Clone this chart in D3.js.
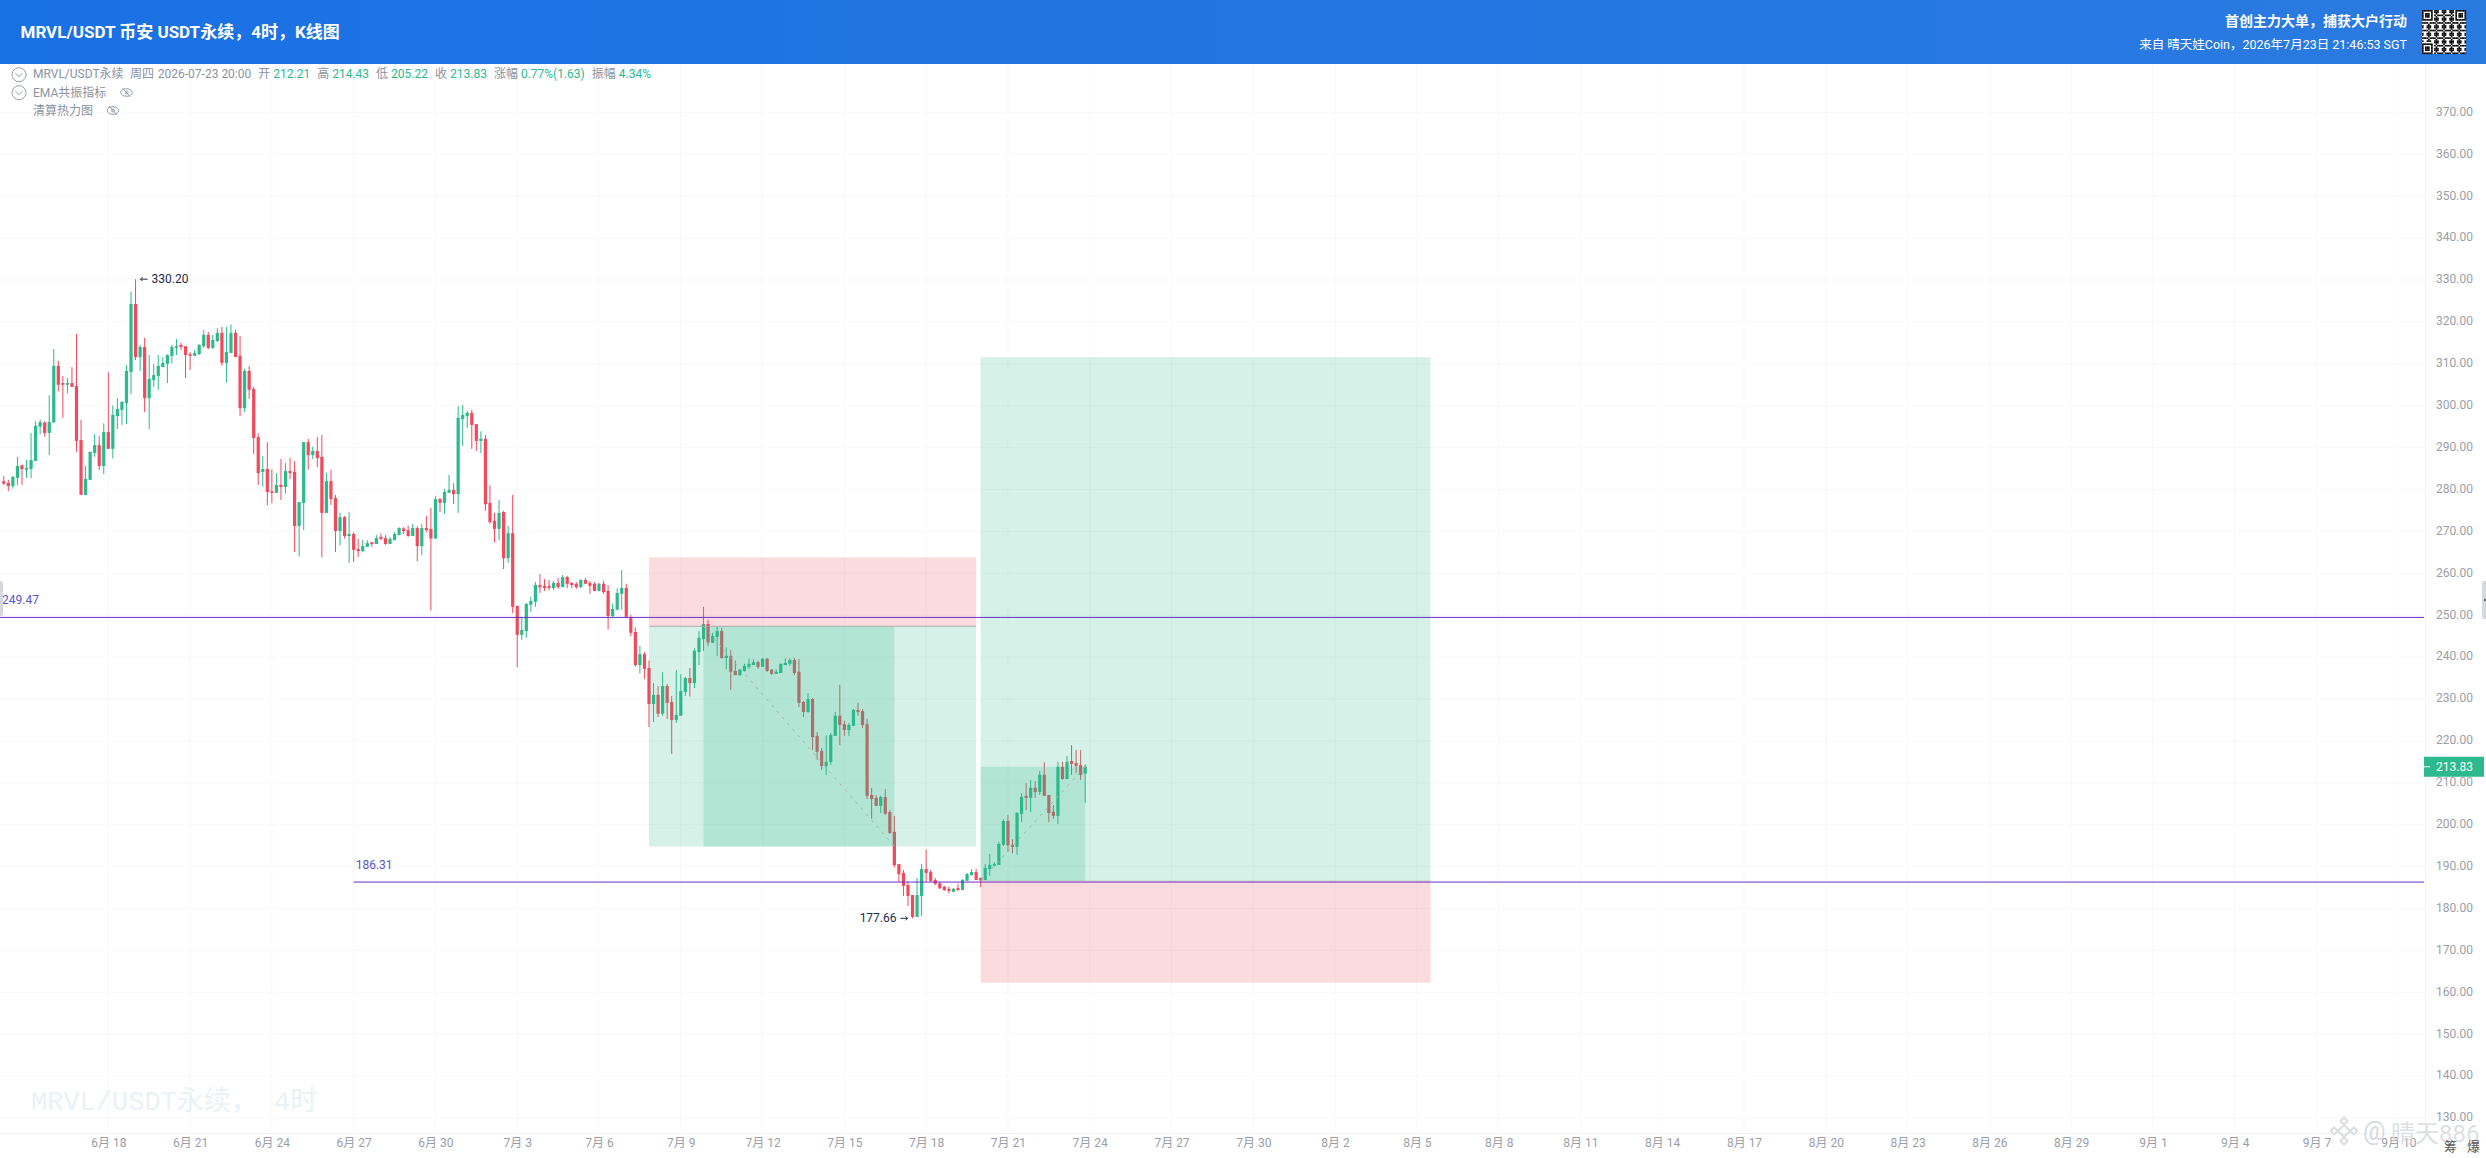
<!DOCTYPE html>
<html><head><meta charset="utf-8">
<script src="https://cdn.jsdelivr.net/npm/d3@7/dist/d3.min.js"></script>
<style>
html,body{margin:0;padding:0;background:#fff;overflow:hidden}
svg{display:block}
text{font-family:Roboto,"Noto Sans CJK SC",sans-serif}
</style></head><body><svg id="c" width="2486" height="1158"></svg>
<script>
// ---- values ----
const lastBarTime = Date.UTC(2026,6,23,20);
const opens = [282.0,281.6,280.8,282.8,285.8,284.7,284.9,286.8,295.0,296.0,
293.5,296.0,309.5,305.4,305.0,305.4,304.7,291.8,278.7,282.3,
288.7,290.6,285.6,293.7,289.7,297.5,299.0,300.6,308.0,324.3,
311.6,314.0,301.8,306.1,307.1,309.2,310.0,311.9,313.8,314.5,
314.2,312.3,311.9,312.3,314.2,316.9,313.8,315.4,317.4,310.2,
312.6,317.4,311.9,299.4,308.3,304.0,292.5,284.2,284.9,279.6,
279.2,281.1,280.6,284.4,284.2,271.3,276.8,291.3,288.2,289.2,
287.8,274.4,282.0,278.0,270.1,273.4,268.9,269.4,265.8,265.3,
266.3,267.4,267.0,268.7,268.4,267.0,267.9,269.1,270.7,270.3,
268.9,270.8,266.5,270.8,270.6,268.3,277.7,276.8,279.2,279.9,
278.9,296.8,297.5,298.3,295.6,291.6,292.1,276.8,272.5,270.6,
274.6,263.6,269.6,252.2,245.3,246.2,252.5,253.2,257.2,257.0,
257.0,256.5,257.7,256.7,259.1,257.7,257.5,256.7,258.4,257.7,
257.5,255.8,257.5,255.8,249.8,251.3,255.1,256.5,249.3,246.0,
238.1,240.7,237.4,228.8,231.0,226.5,233.1,229.3,225.0,226.0,
231.7,235.0,233.8,241.2,244.3,247.9,243.4,244.8,246.2,239.8,
240.3,236.7,235.7,236.7,237.7,238.1,238.8,237.7,239.6,237.0,
236.0,236.2,238.1,238.4,239.3,236.5,229.3,226.9,230.0,221.2,
217.6,214.0,215.0,221.2,226.0,224.0,222.6,223.6,227.4,227.1,
224.0,207.1,206.4,204.5,206.6,203.0,198.3,190.6,188.5,185.6,
183.2,178.0,183.0,189.4,188.7,186.8,186.0,185.2,184.7,184.0,
184.9,184.4,186.6,188.0,188.7,187.3,186.8,189.4,190.2,190.4,
195.2,200.9,195.2,194.7,202.6,206.9,206.4,208.8,207.8,211.9,
207.1,203.1,202.1,213.8,210.9,215.2,214.7,214.2,212.21];
const highs = [283.2,282.3,283.2,287.8,285.9,287.0,293.5,296.3,296.7,296.3,
302.5,313.5,310.7,307.1,306.6,309.2,317.1,296.6,285.6,289.0,
293.2,292.8,295.8,308.0,300.1,301.8,301.1,309.7,327.2,330.2,
314.5,316.2,312.1,310.0,312.1,311.6,312.3,314.5,315.9,315.0,
314.2,312.8,313.3,314.7,318.1,317.6,316.9,318.5,318.8,318.8,
319.4,318.1,316.6,308.8,309.5,304.5,293.4,288.0,291.3,284.8,
283.9,287.3,286.3,287.6,286.8,277.0,291.3,292.1,290.2,292.5,
293.0,284.0,284.7,278.7,274.5,273.7,274.6,269.8,268.2,268.0,
267.9,267.5,269.1,269.5,269.1,268.7,269.8,271.0,271.0,271.4,
271.8,271.2,271.8,273.7,275.6,278.4,278.0,280.1,283.5,281.5,
299.9,300.2,298.7,299.0,295.6,293.9,293.0,281.0,274.4,277.5,
274.9,271.3,278.7,252.3,249.6,252.9,254.4,257.9,259.8,258.6,
258.4,258.2,258.9,259.6,259.4,257.9,257.9,258.6,258.9,258.2,
257.9,257.7,258.2,257.2,252.8,256.4,260.8,257.5,250.1,247.1,
242.7,241.2,239.2,233.8,233.1,236.4,233.6,230.7,236.9,235.9,
235.3,237.4,242.1,246.2,252.0,248.9,245.8,247.2,247.0,242.3,
241.7,239.2,237.2,238.4,239.6,239.5,239.1,239.8,239.8,237.1,
237.1,238.4,239.7,239.7,239.8,239.5,229.5,231.4,230.2,222.1,
218.3,221.3,221.9,226.9,233.4,224.8,224.3,227.6,229.1,227.6,
225.3,208.8,207.0,206.9,208.5,203.5,202.1,190.6,189.2,186.4,
183.2,187.3,190.6,194.1,189.2,187.3,186.4,185.4,185.2,184.9,
185.9,187.0,188.5,189.4,189.4,187.4,190.6,193.0,191.1,195.9,
201.3,202.3,196.5,203.0,207.5,209.9,210.7,210.4,212.8,214.9,
207.1,204.7,215.0,215.0,216.4,219.0,217.8,217.8,214.43];
const lows = [281.1,279.6,280.2,281.1,281.1,282.8,282.7,286.8,293.2,292.6,
288.2,296.0,303.4,297.1,303.0,304.5,289.0,278.7,278.7,282.3,
287.8,284.7,283.7,289.7,287.4,294.4,295.4,295.6,302.8,310.9,
308.3,298.5,294.4,304.5,303.8,309.2,305.4,310.1,312.1,313.3,
306.6,308.5,311.9,312.1,313.8,313.5,313.5,315.2,309.5,305.5,
312.6,311.6,297.5,298.5,301.6,288.5,281.1,280.7,276.3,276.7,
279.2,277.5,279.1,282.5,265.1,264.0,270.3,284.7,287.3,285.3,
263.8,274.4,276.3,265.1,266.6,268.3,262.5,262.7,263.9,265.1,
266.3,266.3,267.0,267.9,266.8,267.0,267.9,269.1,269.4,268.7,
268.9,262.9,264.3,269.8,251.1,268.3,274.6,274.2,279.2,276.5,
274.4,290.4,294.7,289.7,289.2,288.7,274.9,271.8,267.4,267.9,
261.0,262.5,250.5,237.6,244.1,244.6,250.8,252.0,255.3,255.8,
256.0,256.0,256.3,256.7,256.5,256.5,256.3,256.5,257.5,255.1,
255.8,255.8,255.1,246.6,249.3,251.3,251.3,249.6,245.0,237.7,
236.1,234.8,223.3,224.5,225.7,226.0,225.2,216.9,224.3,226.0,
230.7,230.6,232.6,238.1,241.5,242.6,243.4,240.3,239.6,237.1,
232.2,235.7,235.5,236.5,237.2,238.1,237.2,237.7,236.5,235.7,
236.0,236.2,238.1,237.9,235.7,228.1,225.7,226.7,217.8,215.5,
213.1,211.8,214.3,221.2,219.0,221.2,221.2,223.6,226.0,223.1,
206.1,201.4,204.5,202.8,202.3,197.8,189.8,186.4,183.0,180.6,
177.66,178.0,178.2,186.4,186.4,185.6,184.7,184.2,183.6,183.9,
184.2,184.4,186.6,187.8,186.8,185.1,186.8,187.8,190.0,190.4,
194.9,193.5,193.2,192.8,200.6,203.5,203.0,206.4,207.1,206.9,
200.6,201.4,200.2,210.7,210.9,211.9,212.4,210.7,205.22];
const closes = [281.4,280.8,283.0,285.6,284.9,285.1,287.0,295.2,296.1,293.5,
296.1,309.5,305.0,305.0,305.4,304.5,291.6,278.7,282.5,289.0,
290.6,285.6,293.7,289.7,297.8,299.2,300.9,308.3,324.3,311.6,
314.0,301.8,306.4,307.3,309.5,310.2,312.1,314.0,314.2,314.0,
312.1,311.9,312.6,314.5,316.9,313.8,315.7,317.4,310.2,312.8,
317.4,311.6,299.4,308.3,303.8,292.3,283.9,284.9,279.4,279.2,
281.1,280.6,284.4,283.9,271.3,277.0,291.3,288.2,289.2,287.5,
274.4,282.0,277.7,270.1,273.4,268.9,269.4,265.6,265.3,266.5,
267.2,267.0,268.4,268.2,267.0,268.2,269.4,270.8,270.1,268.9,
270.8,266.5,270.8,270.3,268.3,277.7,276.8,279.4,279.9,278.9,
297.1,297.8,298.3,295.4,291.6,292.1,276.5,272.2,270.6,274.4,
263.6,269.6,252.0,245.3,246.5,252.7,253.4,257.2,256.7,256.5,
256.5,257.7,256.7,259.1,257.5,257.2,256.7,258.4,257.5,257.0,
255.8,257.5,255.5,249.8,251.5,255.3,256.5,249.6,245.8,238.1,
240.7,237.2,228.8,231.0,226.5,233.1,229.1,225.0,226.2,231.9,
235.0,233.8,241.5,244.6,247.9,243.5,245.0,246.2,239.8,240.3,
236.5,235.7,237.0,237.9,238.4,238.8,237.7,239.6,236.7,236.0,
236.5,238.4,238.6,239.3,236.2,229.1,226.9,230.0,220.9,217.4,
214.0,215.0,221.4,226.0,223.8,222.6,223.8,227.4,226.9,223.8,
206.9,206.1,204.5,206.6,202.6,198.0,190.3,188.2,185.4,183.0,
178.0,183.2,189.4,188.5,186.6,185.9,184.8,184.4,184.2,184.7,
184.4,186.8,188.2,188.7,186.8,186.7,189.7,190.4,190.6,195.4,
200.9,195.1,194.7,202.8,206.6,206.4,208.8,207.8,211.9,206.9,
202.8,202.1,213.8,210.9,215.0,214.5,214.0,211.9,213.83];

const priceTicks = [370,360,350,340,330,320,310,300,290,280,270,260,250,240,230,220,210,200,190,180,170,160,150,140,130];
const dateTicks = [[5,18],[5,21],[5,24],[5,27],[5,30],[6,3],[6,6],[6,9],[6,12],[6,15],[6,18],[6,21],[6,24],[6,27],[6,30],
  [7,2],[7,5],[7,8],[7,11],[7,14],[7,17],[7,20],[7,23],[7,26],[7,29],[8,1],[8,4],[8,7],[8,10]];
const levels = [{price:249.47,from:-1},{price:186.31,from:77}];
const toolBars  = [[142,214],[215,314]];
const toolTop   = [263.8,311.6];
const toolEntry = [247.35,186.6];
const toolBot   = [194.8,162.3];
const fillBars  = [[154,196],[215,238]];
const fillEdge  = [194.8,213.83];
const peak = {i:29,price:330.20}, trough = {i:200,price:177.66};
const legendLabels = ["MRVL/USDT永续","周四","2026-07-23 20:00","开","212.21","高","214.43","低","205.22","收","213.83","涨幅","0.77%(1.63)","振幅","4.34%"];
const legendIsValue = [0,0,0,0,1,0,1,0,1,0,1,0,1,0,1];

// ---- colours ----
const UP="#2bb98d", DOWN="#f2495c", PURPLE="#6a2fc4", GRID="#f7f9fa", TICK="#9a9ea8", MUTED="#8b93a0";

const svg=d3.select("#c");
const x=d3.scaleUtc().domain([Date.UTC(2026,5,18),Date.UTC(2026,8,10)]).range([108.3,2398.3]);
const y=d3.scaleLinear().domain([370,130]).range([112.4,1118]);
const barTime=i=>lastBarTime-(238-i)*4*3600e3;
const xb=i=>x(barTime(i));
const dates=dateTicks.map(d=>new Date(Date.UTC(2026,d[0],d[1])));
const L=0,R=2425,T=64,B=1133;

// grid
const grid=svg.append("g");
grid.selectAll(".gy").data(priceTicks).join("line").attr("x1",L).attr("x2",2430).attr("y1",d=>y(d)).attr("y2",d=>y(d)).attr("stroke",GRID);
grid.selectAll(".gx").data(dates).join("line").attr("x1",d=>x(d)).attr("x2",d=>x(d)).attr("y1",T).attr("y2",B).attr("stroke",GRID);
grid.append("line").attr("x1",R+.5).attr("x2",R+.5).attr("y1",T).attr("y2",B).attr("stroke","#f0f3f5");
grid.append("line").attr("x1",0).attr("x2",R).attr("y1",B+.5).attr("y2",B+.5).attr("stroke","#f0f3f5");

// big watermark
svg.append("text").attr("x",31).attr("y",1110).attr("fill","#ebf1f4").style("font-family",'"Liberation Mono","Noto Sans CJK SC"').style("font-size","27px").text("MRVL/USDT永续， 4时");

// candles
const idx=d3.range(opens.length);
const col=i=>closes[i]>=opens[i]?UP:DOWN;
svg.append("g").selectAll("line").data(idx).join("line")
  .attr("x1",xb).attr("x2",xb).attr("y1",i=>y(highs[i])).attr("y2",i=>y(lows[i])).attr("stroke",col).attr("stroke-width",1);
svg.append("g").selectAll("rect").data(idx).join("rect")
  .attr("x",i=>xb(i)-1.6).attr("width",3.2)
  .attr("y",i=>y(Math.max(opens[i],closes[i])))
  .attr("height",i=>Math.max(1.5,Math.abs(y(opens[i])-y(closes[i]))))
  .attr("fill",col);

// position tools
const tg=svg.append("g");
toolBars.forEach((b,k)=>{
  const x0=xb(b[0]), x1=xb(b[1]);
  const longTool=k==1;
  const gTop=longTool?toolTop[k]:toolEntry[k], gBot=longTool?toolEntry[k]:toolBot[k];
  const rTop=longTool?toolEntry[k]:toolTop[k], rBot=longTool?toolBot[k]:toolEntry[k];
  tg.append("rect").attr("x",x0).attr("width",x1-x0).attr("y",y(gTop)).attr("height",y(gBot)-y(gTop)).attr("fill",UP).attr("fill-opacity",.2);
  tg.append("rect").attr("x",x0).attr("width",x1-x0).attr("y",y(rTop)).attr("height",y(rBot)-y(rTop)).attr("fill",DOWN).attr("fill-opacity",.2);
  const f=fillBars[k], ft=Math.max(toolEntry[k],fillEdge[k]), fb=Math.min(toolEntry[k],fillEdge[k]);
  tg.append("rect").attr("x",xb(f[0])).attr("width",xb(f[1])-xb(f[0])).attr("y",y(ft)).attr("height",y(fb)-y(ft)).attr("fill",UP).attr("fill-opacity",.2);
  tg.append("line").attr("x1",x0).attr("x2",x1).attr("y1",y(toolEntry[k])).attr("y2",y(toolEntry[k])).attr("stroke","#9aa3a8").attr("stroke-opacity",longTool?.3:.8);
  tg.append("line").attr("x1",xb(f[0])).attr("x2",xb(f[1])).attr("y1",y(toolEntry[k])).attr("y2",y(fillEdge[k]))
    .attr("stroke","#a9b1b1").attr("stroke-width",1).attr("stroke-dasharray","3 5");
});

// horizontal rays
const rays=svg.append("g");
levels.forEach(l=>{
  const xs=l.from<0?0:xb(l.from);
  rays.append("line").attr("x1",xs).attr("x2",R-1).attr("y1",y(l.price)).attr("y2",y(l.price)).attr("stroke",PURPLE).attr("stroke-width",1);
  rays.append("text").attr("x",xs+2).attr("y",y(l.price)-13.5).attr("fill","#5a55c4").style("font-size","12px").text(l.price.toFixed(2));
});

// extreme markers
function mark(px,py,left,label){
  const g=svg.append("g").attr("stroke","#23233f").attr("fill","none");
  const a=left?px+5:px-5, b=left?px+12:px-12;
  g.append("line").attr("x1",a).attr("x2",b).attr("y1",py).attr("y2",py);
  const h=left?2:-2;
  g.append("path").attr("d",`M${a+h},${py-2}L${a},${py}L${a+h},${py+2}`);
  svg.append("text").attr("x",left?b+4:b-4).attr("y",py+4).attr("text-anchor",left?"start":"end").attr("fill","#1d2b4d").style("font-size","12px").text(label);
}
mark(xb(peak.i),y(peak.price),true,peak.price.toFixed(2));
mark(xb(trough.i),y(trough.price),false,trough.price.toFixed(2));

// axes
const yAxis=d3.axisRight(y).tickValues(priceTicks).tickSize(0).tickPadding(0).tickFormat(d3.format(".2f"));
const ya=svg.append("g").attr("transform","translate(2436,-1)").call(yAxis);
ya.select(".domain").remove();
ya.selectAll("text").attr("fill",TICK).style("font-size","12px").style("font-family",'Roboto');
const xAxis=d3.axisBottom(x).tickValues(dates).tickSize(0).tickPadding(5).tickFormat(d=>(d.getUTCMonth()+1)+"月 "+d.getUTCDate());
const xa=svg.append("g").attr("transform",`translate(0,${B})`).call(xAxis);
xa.select(".domain").remove();
xa.selectAll("text").attr("fill",TICK).style("font-size","12px");

// last price tag
const lastP=closes[closes.length-1];
svg.append("rect").attr("x",R-1).attr("y",y(lastP)-10).attr("width",60).attr("height",20).attr("fill",UP);
svg.append("line").attr("x1",R-1).attr("x2",R+5).attr("y1",y(lastP)).attr("y2",y(lastP)).attr("stroke","#fff");
svg.append("text").attr("x",2436).attr("y",y(lastP)+4.5).attr("fill","#fff").style("font-size","12px").text(lastP.toFixed(2));

// handles
svg.append("rect").attr("x",-3).attr("y",581).attr("width",6).attr("height",35).attr("rx",2).attr("fill","#d6d8dc");
svg.append("rect").attr("x",2482).attr("y",581).attr("width",8).attr("height",38).attr("rx",2).attr("fill","#d6d8dc");
svg.append("circle").attr("cx",2485).attr("cy",600).attr("r",1.2).attr("fill","#666");

// header
const defs=svg.append("defs");
const lg=defs.append("linearGradient").attr("id","hd");
lg.append("stop").attr("offset","0").attr("stop-color","#1a71e4");
lg.append("stop").attr("offset","1").attr("stop-color","#2a7ae0");
svg.append("rect").attr("width",2486).attr("height",64).attr("fill","url(#hd)");
svg.append("text").attr("x",20.5).attr("y",38).attr("fill","#fff").style("font-size","17px").style("font-weight",700).text("MRVL/USDT 币安 USDT永续，4时，K线图");
svg.append("text").attr("x",2407).attr("y",26).attr("text-anchor","end").attr("fill","#fff").style("font-size","14px").style("font-weight",700).text("首创主力大单，捕获大户行动");
svg.append("text").attr("x",2407).attr("y",48.5).attr("text-anchor","end").attr("fill","#fff").style("font-size","12.5px").text("来自 晴天娃Coin，2026年7月23日 21:46:53 SGT");

// QR mock
const qr=svg.append("g").attr("transform","translate(2422,10)");
qr.append("rect").attr("width",44).attr("height",44).attr("fill","#fff");
const N=29,m=44/N;
const finder=(r,c)=>{const inF=(a,b)=>r>=a&&r<a+7&&c>=b&&c<b+7;
  for(const [a,b] of [[0,0],[0,N-7],[N-7,0]]) if(inF(a,b)){const u=r-a,v=c-b;return (u==0||u==6||v==0||v==6||(u>=2&&u<=4&&v>=2&&v<=4))?1:0;}
  return -1;};
const isQuiet=(r,c)=>(r<8&&c<8)||(r<8&&c>=N-8)||(r>=N-8&&c<8);
const cells=[];
for(let r=0;r<N;r++)for(let c=0;c<N;c++){
  const f=finder(r,c); let on;
  if(f>=0) on=f; else if(isQuiet(r,c)) on=0; else on=((r*r*7+c*c*13+r*c*5+r*3+c)%5)<3?1:0;
  if(on) cells.push([r,c]);
}
qr.selectAll("rect.m").data(cells).join("rect").attr("x",d=>d[1]*m).attr("y",d=>d[0]*m).attr("width",m+.1).attr("height",m+.1).attr("fill","#000");

// legend: items flow left to right with the reference's small gaps
let lx=33;
legendLabels.forEach((t,i)=>{
  const v=legendIsValue[i];
  const el=svg.append("text").attr("x",lx).attr("y",78).attr("fill",v?UP:MUTED).style("font-size","12px").text(t);
  const gap = i==0?6.5 : i==1?3.7 : i==2?7 : v?7 : 3;
  lx+=el.node().getComputedTextLength()+gap;
});
svg.append("text").attr("x",33).attr("y",96.5).attr("fill",MUTED).style("font-size","12px").text("EMA共振指标");
svg.append("text").attr("x",33).attr("y",114.5).attr("fill",MUTED).style("font-size","12px").text("清算热力图");
[74.7,92.7].forEach(cy=>{
  const g=svg.append("g").attr("fill","none").attr("stroke","#98a0aa");
  g.append("circle").attr("cx",19).attr("cy",cy).attr("r",7);
  g.append("path").attr("d",`M15.5,${cy-1.5}L19,${cy+2}L22.5,${cy-1.5}`);
});
[[126.5,92.5],[113,110.5]].forEach(p=>{
  const g=svg.append("g").attr("fill","none").attr("stroke","#98a0aa");
  g.append("ellipse").attr("cx",p[0]).attr("cy",p[1]).attr("rx",5.8).attr("ry",3.8);
  g.append("circle").attr("cx",p[0]).attr("cy",p[1]).attr("r",1.5);
  g.append("line").attr("x1",p[0]-4).attr("y1",p[1]-4.5).attr("x2",p[0]+4).attr("y2",p[1]+4.5);
});

// bottom-right watermark
const wm=svg.append("g").attr("fill","none").attr("stroke","#dcdde0").attr("stroke-width",2);
[[2344,1131,6],[2334,1131,3.5],[2354,1131,3.5],[2344,1121,3.5],[2344,1141,3.5]].forEach(d=>{
  wm.append("path").attr("d",`M${d[0]-d[2]},${d[1]}L${d[0]},${d[1]-d[2]}L${d[0]+d[2]},${d[1]}L${d[0]},${d[1]+d[2]}Z`);
});
svg.append("text").attr("x",2363).attr("y",1140).attr("fill","#d8dadd").style("font-size","25px").text("@");
svg.append("text").attr("x",2391).attr("y",1142).attr("fill","#d8dadd").attr("fill-opacity",.85).style("font-size","24px").text("晴天886");
svg.append("text").attr("x",2444).attr("y",1151).attr("fill","#555").style("font-size","13px").text("筹");
svg.append("text").attr("x",2467).attr("y",1151).attr("fill","#555").style("font-size","13px").text("爆");
</script></body></html>
